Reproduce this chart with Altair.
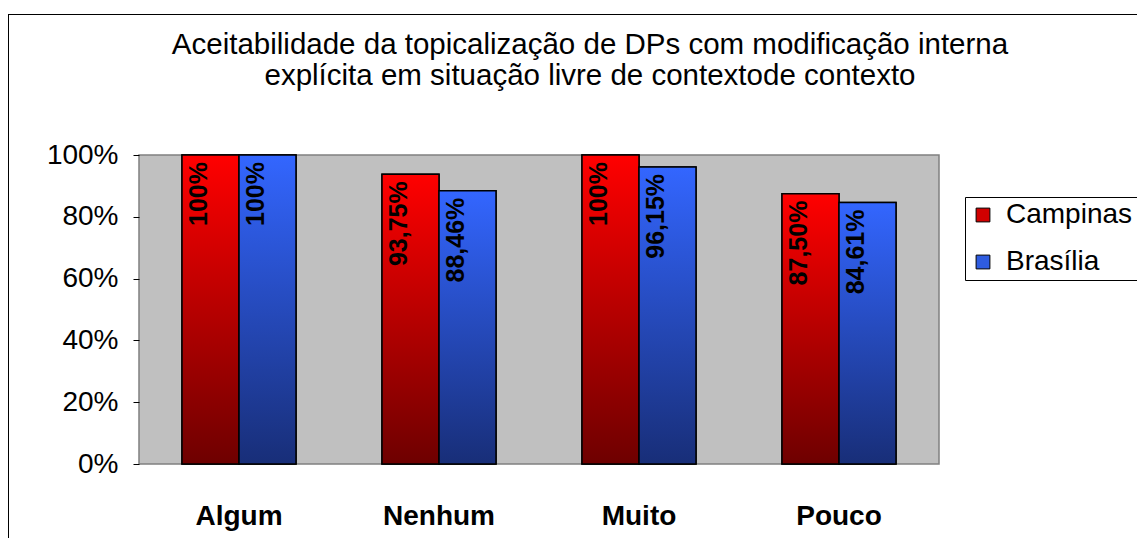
import altair as alt
import pandas as pd

categories = ["Algum", "Nenhum", "Muito", "Pouco"]
series_names = ["Campinas", "Brasília"]
campinas = [100, 93.75, 100, 87.50]
brasilia = [100, 88.46, 96.15, 84.61]
campinas_labels = ["100%", "93,75%", "100%", "87,50%"]
brasilia_labels = ["100%", "88,46%", "96,15%", "84,61%"]
y_ticks = [0, 20, 40, 60, 80, 100]
title_lines = [
    "Aceitabilidade da topicalização de DPs com modificação interna",
    "explícita em situação livre de contextode contexto",
]

rows = []
for i, c in enumerate(categories):
    rows.append(dict(category=c, series=series_names[0], value=campinas[i], label=campinas_labels[i]))
    rows.append(dict(category=c, series=series_names[1], value=brasilia[i], label=brasilia_labels[i]))
df = pd.DataFrame(rows)

FONT = "Liberation Sans, Arial, sans-serif"

red_grad = {"gradient": "linear", "x1": 0, "y1": 0, "x2": 0, "y2": 1,
            "stops": [{"offset": 0, "color": "#FF0000"}, {"offset": 1, "color": "#6E0000"}]}
blue_grad = {"gradient": "linear", "x1": 0, "y1": 0, "x2": 0, "y2": 1,
             "stops": [{"offset": 0, "color": "#3366FF"}, {"offset": 1, "color": "#182E78"}]}

x_enc = alt.X("category:N", sort=categories,
              scale=alt.Scale(paddingInner=0.43, paddingOuter=0.215),
              axis=alt.Axis(title=None, labelAngle=0, ticks=False, domain=False,
                            labelFont=FONT, labelFontSize=28, labelFontWeight="bold",
                            labelColor="black", labelPadding=38))
xoff = alt.XOffset("series:N", sort=series_names,
                   scale=alt.Scale(paddingInner=0, paddingOuter=0))
y_enc = alt.Y("value:Q", scale=alt.Scale(domain=[0, 100], nice=False),
              axis=alt.Axis(title=None, values=y_ticks, labelExpr="datum.value + '%'",
                            grid=False, domain=False, tickColor="#000000", tickSize=6,
                            labelFont=FONT, labelFontSize=28, labelColor="black",
                            labelPadding=15))

base = alt.Chart(df)

bars_solid = base.mark_bar(stroke="black", strokeWidth=1.5).encode(
    x=x_enc, xOffset=xoff, y=y_enc,
    color=alt.Color("series:N", sort=series_names,
                    scale=alt.Scale(domain=series_names, range=["#D00000", "#2E5CE0"]),
                    legend=alt.Legend(title=None, orient="none", legendX=826, legendY=42,
                                      symbolType="square", symbolSize=190,
                                      symbolStrokeColor="black", symbolStrokeWidth=1,
                                      labelFont=FONT, labelFontSize=28, labelColor="black",
                                      strokeColor="black", fillColor="white",
                                      padding=4, rowPadding=19, labelOffset=9)),
)

bars_grad = base.mark_bar(stroke="black", strokeWidth=1.5).encode(
    x=x_enc, xOffset=xoff, y=y_enc,
    color=alt.condition("datum.series == 'Campinas'", alt.value(red_grad), alt.value(blue_grad)),
)

labels = base.mark_text(angle=270, align="right", baseline="middle", dx=-7, dy=-12,
                        font=FONT, fontSize=25, fontWeight="bold", color="black").encode(
    x=x_enc, xOffset=xoff, y=y_enc, text="label:N",
)

one = pd.DataFrame({"k": [0]})
left_rule = alt.Chart(one).mark_rule(color="black", strokeWidth=1).encode(
    x=alt.value(-130.5), y=alt.value(-141), y2=alt.value(390))
top_rule = alt.Chart(one).mark_rule(color="black", strokeWidth=1).encode(
    x=alt.value(-131), x2=alt.value(1100), y=alt.value(-140.5))

chart = alt.layer(bars_solid, bars_grad, labels, left_rule, top_rule).properties(
    width=800, height=309,
    title=alt.TitleParams(title_lines, font=FONT, fontSize=29.5, fontWeight="normal",
                          color="black", lineHeight=31, anchor="middle", frame="group",
                          dx=51, offset=-78),
    padding={"left": 131, "top": 147, "right": 198, "bottom": 74},
    autosize=alt.AutoSizeParams(type="none"),
).configure_view(fill="#C0C0C0", stroke="#808080", strokeWidth=1.5)

chart.save("out.html", embed_options={"renderer": "svg", "actions": False})
